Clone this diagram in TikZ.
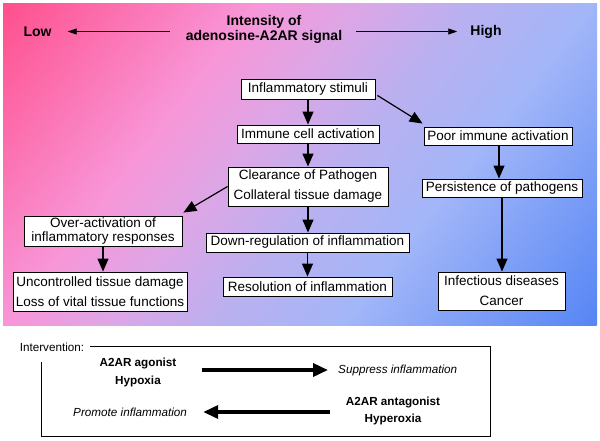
\documentclass[tikz,border=0pt]{standalone}
\usepackage{fontspec}
\setmainfont{Liberation Sans}
\usetikzlibrary{arrows.meta,calc}
\definecolor{g0}{HTML}{FF4F8C}
\definecolor{g1}{HTML}{F896D8}
\definecolor{g2}{HTML}{DDA6E6}
\definecolor{g3}{HTML}{BAB0F0}
\definecolor{g4}{HTML}{A2B6F8}
\definecolor{g5}{HTML}{5585F5}
\pgfdeclarehorizontalshading{bgshade}{100bp}{color(0bp)=(g0); color(25bp)=(g0); color(40bp)=(g1); color(46bp)=(g2); color(52.5bp)=(g3); color(60bp)=(g4); color(75bp)=(g5); color(100bp)=(g5)}
\tikzset{
  box/.style={draw=black, fill=white, line width=0.9pt, inner sep=0pt, align=center, font=\fontsize{13.5}{20}\selectfont},
  ttl/.style={inner sep=0pt, align=center, font=\fontsize{14}{15.4}\selectfont\bfseries},
  arr/.style={line width=1.2pt, -{Triangle[length=13pt,width=11pt]}},
  harr/.style={line width=0.8pt, -{Triangle[length=9pt,width=6pt]}},
  bigarr/.style={line width=3.5pt, -{Triangle[length=15pt,width=13pt]}},
  bb/.style={inner sep=0pt, align=center, font=\fontsize{11.7}{18}\selectfont\bfseries},
  itx/.style={inner sep=0pt, font=\fontsize{11.7}{14}\selectfont\itshape},
  frame/.style={draw=black, line width=0.8pt}
}
\begin{document}
\begin{tikzpicture}[x=1pt,y=-1pt]
\useasboundingbox[fill=white] (0,0) rectangle (600,440);
% background gradient
\begin{scope}
\clip (3,3) rectangle (597,325);
\begin{scope}[transform canvas={shift={(3,3)}, rotate=-38}]
\shade[shading=bgshade] (0,-450) rectangle (666.3,450);
\end{scope}
\end{scope}
% header
\node[ttl] (title) at (264,29.5) {Intensity of\\adenosine-A2AR signal};
\node[ttl] (low) at (37.5,31.5) {Low};
\node[ttl] (high) at (486,31.5) {High};
\draw[harr] ($(title.west |- low.east)+(-16,0)$) -- ($(low.east)+(16,0)$);
\draw[harr] ($(title.east |- high.west)+(14,0)$) -- ($(high.west)+(-13,0)$);
% boxes
\node[box, minimum width=134pt, minimum height=20pt] (stim) at (308,89) {Inflammatory stimuli};
\node[box, minimum width=142pt, minimum height=18pt] (imm) at (308,134) {Immune cell activation};
\node[box, minimum width=160pt, minimum height=39pt] (clr) at (308,186.5) {Clearance of Pathogen\\Collateral tissue damage};
\node[box, minimum width=148pt, minimum height=18pt] (poor) at (498,136) {Poor immune activation};
\node[box, minimum width=160pt, minimum height=18pt] (pers) at (502,188) {Persistence of pathogens};
\node[box, minimum width=158pt, minimum height=30pt, font=\fontsize{13.5}{13.3}\selectfont] (over) at (103,231) {Over-activation of\\inflammatory responses};
\node[box, minimum width=174pt, minimum height=39pt] (unc) at (100,291.5) {Uncontrolled tissue damage\\Loss of vital tissue functions};
\node[box, minimum width=203pt, minimum height=19pt] (down) at (307.5,242.5) {Down-regulation of inflammation};
\node[box, minimum width=169pt, minimum height=19pt] (res) at (307.5,286.5) {Resolution of inflammation};
\node[box, minimum width=127pt, minimum height=38pt] (inf) at (501.5,291) {Infectious diseases\\Cancer};
% connectors
\draw[arr] (stim.south) -- (stim.south |- imm.north);
\draw[arr] ($(stim.south east)+(2,-4)$) -- ($(poor.north west)+(-1,-3)$);
\draw[arr] (imm.south) -- (imm.south |- clr.north);
\draw[arr] (clr.west) -- ($(over.north east)+(1,-3)$);
\draw[arr] (clr.south) -- (clr.south |- down.north);
\draw[arr] (down.south) -- (down.south |- res.north);
\draw[arr] (over.south) -- (over.south |- unc.north);
\draw[arr] ($(poor.south)+(1,0)$) -- ($(poor.south |- pers.north)+(1,0)$);
\draw[arr] (pers.south) -- (pers.south |- inf.north);
% intervention
\draw[frame] (41,346) rectangle (490,436);
\node[fill=white, inner xsep=6pt, inner ysep=0pt, minimum height=30pt, font=\fontsize{11.7}{14}\selectfont] (intv) at (52,347) {Intervention:};
\node[bb] (ag) at (138,372) {A2AR agonist\\Hypoxia};
\node[itx, anchor=west] (sup) at (338,370) {Suppress inflammation};
\draw[bigarr] ($(ag.east |- sup.west)+(25,0)$) -- ($(sup.west)+(-10,0)$);
\node[bb, font=\fontsize{11.7}{17}\selectfont\bfseries] (an) at (393,410.5) {A2AR antagonist\\Hyperoxia};
\node[itx, anchor=west] (pro) at (73,412) {Promote inflammation};
\draw[bigarr] ($(an.west |- pro.east)+(-16,0)$) -- ($(pro.east)+(16,0)$);
\end{tikzpicture}
\end{document}
